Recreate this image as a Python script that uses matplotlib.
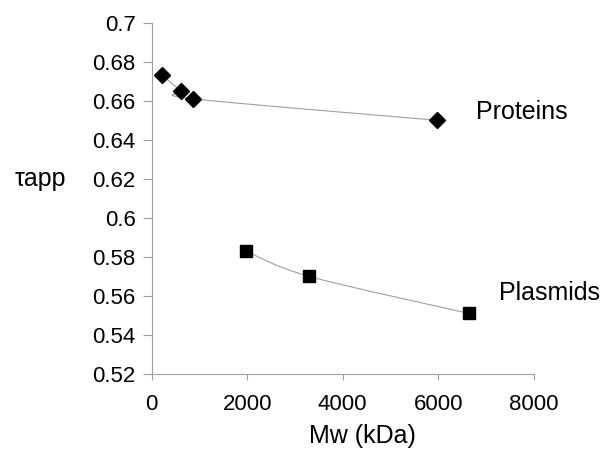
import matplotlib
matplotlib.use("Agg")
import matplotlib.pyplot as plt
import numpy as np
from matplotlib.path import Path
from matplotlib.patches import PathPatch

plt.rcParams['font.family'] = ['Liberation Sans', 'DejaVu Sans']

protein_mw = [222, 614, 871, 5968]
protein_tau = [0.673, 0.665, 0.661, 0.650]
plasmid_mw = [1975, 3300, 6650]
plasmid_tau = [0.583, 0.570, 0.551]

xticks = [0, 2000, 4000, 6000, 8000]
yticks = [0.52, 0.54, 0.56, 0.58, 0.6, 0.62, 0.64, 0.66, 0.68, 0.7]
ytick_labels = ['0.52', '0.54', '0.56', '0.58', '0.6', '0.62', '0.64', '0.66', '0.68', '0.7']

fig = plt.figure(figsize=(6.06, 4.49), dpi=100)
ax = fig.add_axes([151.7/606, 1-374/449, 382/606, 351.3/449])


def smooth_path(xs, ys, ax):
    # Excel-like smoothed line: Bezier with Catmull-Rom control points (in display space)
    pts = ax.transData.transform(np.column_stack([xs, ys]))
    n = len(pts)
    verts = [pts[0]]
    codes = [Path.MOVETO]
    t = 1/6
    for i in range(n - 1):
        p0 = pts[i - 1] if i > 0 else pts[i]
        p1 = pts[i]
        p2 = pts[i + 1]
        p3 = pts[i + 2] if i + 2 < n else pts[i + 1]
        c1 = p1 + (p2 - p0) * t
        c2 = p2 - (p3 - p1) * t
        verts += [c1, c2, p2]
        codes += [Path.CURVE4] * 3
    inv = ax.transData.inverted()
    return Path(inv.transform(np.array(verts)), codes)


ax.set_xlim(0, 8000)
ax.set_ylim(0.52, 0.7)

for xs, ys in [(protein_mw, protein_tau), (plasmid_mw, plasmid_tau)]:
    p = smooth_path(xs, ys, ax)
    ax.add_patch(PathPatch(p, facecolor='none', edgecolor='#a0a0a0', lw=0.8, zorder=2))

ax.plot(protein_mw, protein_tau, linestyle='none', marker='D', markersize=8,
        color='black', zorder=3)
ax.plot(plasmid_mw, plasmid_tau, linestyle='none', marker='s', markersize=8,
        color='black', zorder=3)

ax.set_xticks(xticks)
ax.set_xticklabels([str(v) for v in xticks])
ax.set_yticks(yticks)
ax.set_yticklabels(ytick_labels)

for s in ['top', 'right']:
    ax.spines[s].set_visible(False)
for s in ['left', 'bottom']:
    ax.spines[s].set_color('#a0a0a0')
    ax.spines[s].set_linewidth(0.8)

ax.tick_params(axis='both', labelsize=16, color='#a0a0a0', width=0.8)
ax.tick_params(axis='x', length=4.5, pad=10)
ax.tick_params(axis='y', length=6.5, pad=5)

ax.text(7760, 0.6545, 'Proteins', fontsize=18, ha='center', va='center', clip_on=False)
ax.text(8340, 0.5614, 'Plasmids', fontsize=18, ha='center', va='center', clip_on=False)

fig.text(40/606, 1-179/449, 'τapp', fontsize=18, ha='center', va='center')
fig.text(362/606, 1-436/449, 'Mw (kDa)', fontsize=18, ha='center', va='center')

fig.savefig('out.png', dpi=100)
